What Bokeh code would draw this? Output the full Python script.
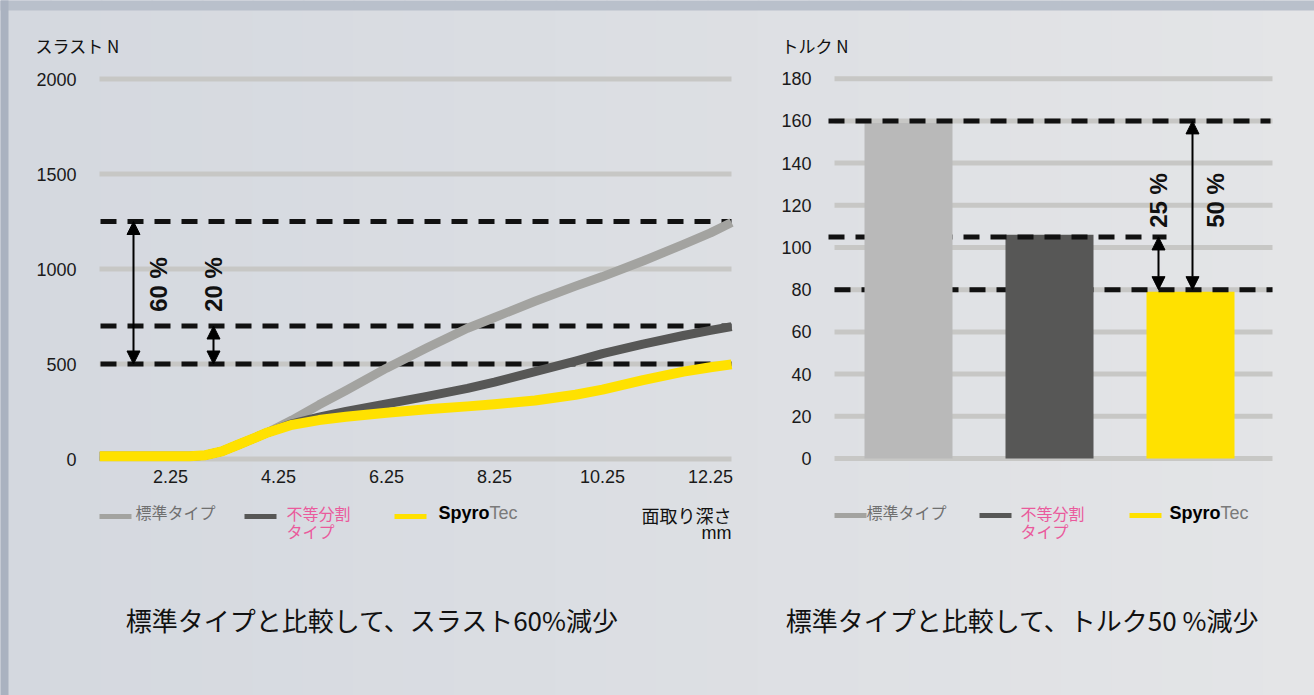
import math
from bokeh.plotting import figure
from bokeh.models import Label, Arrow, NormalHead, Range1d, BoxAnnotation
from bokeh.embed import file_html
from bokeh.resources import INLINE

# ---------------- data ----------------
thrust_title = "スラスト N"
torque_title = "トルク N"
depth = [0.94, 2.6, 2.9, 3.2, 3.5, 3.8, 4.05, 4.5, 5.0, 5.5, 6.25, 7.0, 7.75,
         8.25, 9.0, 9.75, 10.25, 11.0, 11.75, 12.25, 12.64]
thrust_standard = [15, 15, 20, 40, 75, 110, 140, 205, 285, 360, 478, 585, 688,
                   745, 830, 910, 960, 1042, 1130, 1190, 1245]
thrust_unequal = [15, 15, 20, 40, 75, 110, 140, 185, 220, 250, 290, 330, 372,
                  405, 460, 515, 555, 605, 650, 677, 697]
thrust_spyrotec = [15, 15, 20, 40, 75, 110, 140, 180, 205, 222, 243, 262, 277,
                   288, 308, 338, 365, 415, 460, 483, 498]
thrust_yticks = [0, 500, 1000, 1500, 2000]
thrust_ytick_labels = ["0", "500", "1000", "1500", "2000"]
depth_ticks = [2.25, 4.25, 6.25, 8.25, 10.25, 12.25]
depth_tick_labels = ["2.25", "4.25", "6.25", "8.25", "10.25", "12.25"]
thrust_ref_levels = [1250, 700, 500]
thrust_arrow_from = [500, 500]
thrust_arrow_to = [1250, 700]
thrust_arrow_labels = ["60 %", "20 %"]
depth_axis_title = ["面取り深さ", "mm"]

torque_x = [1, 2, 3]
torque_values = [159, 106, 79]
torque_yticks = [0, 20, 40, 60, 80, 100, 120, 140, 160, 180]
torque_ytick_labels = ["0", "20", "40", "60", "80", "100", "120", "140", "160", "180"]
torque_ref_levels = [160, 105, 80]
torque_arrow_from = [80, 80]
torque_arrow_to = [105, 160]
torque_arrow_labels = ["25 %", "50 %"]

legend_standard = "標準タイプ"
legend_unequal = ["不等分割", "タイプ"]
legend_spyro = ["Spyro", "Tec"]
caption_thrust = "標準タイプと比較して、スラスト60%減少"
caption_torque = "標準タイプと比較して、トルク50 %減少"

# ---------------- styles ----------------
JP = "Noto Sans CJK JP"
LAT = "Liberation Sans"
C_STD_LINE = "#a3a3a0"
C_STD_BAR = "#b9b9b9"
C_UNEQ = "#575756"
C_YEL = "#ffe100"
C_GRID = "#c7c7c5"
C_DASH = "#111111"
C_PINK = "#ea5a9c"
W, H = 1314, 695
BG0 = (212, 216, 223)
BG1 = (228, 229, 231)


def bg_col(px):
    t = max(0.0, min(1.0, px / W))
    c = [round(BG0[i] + (BG1[i] - BG0[i]) * t) for i in range(3)]
    return "#%02x%02x%02x" % tuple(c)


# pixel -> data helpers (layout only)
def lx(px):
    return 2.25 + (px - 170) / 54.0


def ly(py):
    return (458.5 - py) / 0.19


def rx(px):
    return 1 + (px - 908) / 141.0


def ry(py):
    return (458 - py) / 2.11


p = figure(width=W, height=H, title=None,
           x_range=Range1d(lx(0), lx(W)), y_range=Range1d(ly(H), ly(0)),
           x_axis_location=None, y_axis_location=None,
           output_backend="svg", toolbar_location=None, tools="",
           min_border=0, min_border_left=0, min_border_right=0,
           min_border_top=0, min_border_bottom=0,
           background_fill_color=bg_col(W / 2), border_fill_color=bg_col(W / 2),
           outline_line_color=None)
p.xgrid.visible = False
p.ygrid.visible = False
p.extra_x_ranges = {"tq": Range1d(rx(0), rx(W))}
p.extra_y_ranges = {"tq": Range1d(ry(H), ry(0))}
TQ = dict(x_range_name="tq", y_range_name="tq")

# background gradient + frame strips
NB = 26
for k in range(NB):
    a = W * k / NB
    b = W * (k + 1) / NB
    p.add_layout(BoxAnnotation(left=lx(a - 1), right=lx(b + 1), bottom=ly(H + 2),
                               top=ly(-2), fill_color=bg_col((a + b) / 2),
                               fill_alpha=1, line_color=None, level="underlay"))
p.add_layout(BoxAnnotation(left=lx(-2), right=lx(W + 2), bottom=ly(10), top=ly(-2),
                           fill_color="#b9c0cb", fill_alpha=1, line_color=None,
                           level="underlay"))
p.add_layout(BoxAnnotation(left=lx(-2), right=lx(8), bottom=ly(H + 2), top=ly(-2),
                           fill_color="#aab2c0", fill_alpha=1, line_color=None,
                           level="underlay"))


def lab(x, y, text, size, color="#111111", font=JP, align="left",
        style="normal", angle=0.0, **kw):
    p.add_layout(Label(x=x, y=y, text=text, text_font=font,
                       text_font_size=f"{size}px", text_color=color,
                       text_align=align, text_baseline="middle",
                       text_font_style=style, angle=angle, **kw))


def arrow(x, y0, y1, **kw):
    p.add_layout(Arrow(start=NormalHead(size=13, fill_color="black", line_color="black"),
                       end=NormalHead(size=13, fill_color="black", line_color="black"),
                       x_start=x, y_start=y0, x_end=x, y_end=y1,
                       line_width=2, line_color="black", **kw))


# ---------------- left chart (thrust) ----------------
nt = len(thrust_yticks)
p.segment(x0=[lx(99)] * nt, y0=thrust_yticks, x1=[lx(731)] * nt, y1=thrust_yticks,
          line_color=C_GRID, line_width=5)

n = len(thrust_ref_levels)
p.segment(x0=[lx(100)] * n, y0=thrust_ref_levels, x1=[lx(731)] * n,
          y1=thrust_ref_levels, line_color=C_DASH, line_width=5,
          line_dash="16 11")
p.line(depth, thrust_standard, line_color=C_STD_LINE, line_width=9,
       line_join="round")
p.line(depth, thrust_unequal, line_color=C_UNEQ, line_width=9,
       line_join="round")
p.line(depth, thrust_spyrotec, line_color=C_YEL, line_width=10,
       line_join="round")

arrow_px = [133, 213]
text_px = [158, 213]
for i in range(len(thrust_arrow_labels)):
    arrow(lx(arrow_px[i]), thrust_arrow_from[i], thrust_arrow_to[i])
    lab(lx(text_px[i]), ly(284), thrust_arrow_labels[i], 24,
        color="#111111", font=LAT, align="center", style="bold",
        angle=math.pi / 2)

for t, s in zip(thrust_yticks, thrust_ytick_labels):
    lab(lx(76), t, s, 18, color="#1a1a1a", font=LAT, align="right")
for t, s in zip(depth_ticks, depth_tick_labels):
    lab(t, ly(476), s, 18, color="#1a1a1a", font=LAT, align="center")

lab(lx(35), ly(44.5), thrust_title, 17)
lab(lx(731), ly(514), depth_axis_title[0], 18, align="right")
lab(lx(731), ly(532.5), depth_axis_title[1], 18, font=LAT, align="right")

p.segment(x0=[lx(99), lx(244), lx(394)], y0=[ly(516)] * 3,
          x1=[lx(131), lx(276), lx(426)], y1=[ly(516)] * 3,
          line_color=[C_STD_LINE, C_UNEQ, C_YEL], line_width=5)
lab(lx(135), ly(511.5), legend_standard, 16, color="#707070")
lab(lx(286), ly(512), legend_unequal[0], 16, color=C_PINK)
lab(lx(286), ly(530.5), legend_unequal[1], 16, color=C_PINK)
lab(lx(438), ly(512.5), legend_spyro[0], 18, color="#000000", font=LAT,
    style="bold")
lab(lx(489), ly(512.5), legend_spyro[1], 18, color="#7a7a7a", font=LAT)

lab(lx(372), ly(619), caption_thrust, 26, align="center")

# ---------------- right chart (torque) ----------------
nq = len(torque_yticks)
p.segment(x0=[rx(834)] * nq, y0=torque_yticks, x1=[rx(1272)] * nq, y1=torque_yticks,
          line_color=C_GRID, line_width=5, **TQ)

bw = 88 / 141.0
bar_colors = [C_STD_BAR, C_UNEQ, C_YEL]
dash_x0 = [rx(828), rx(828), rx(834)]
dash_x1 = [rx(1270), rx(1166), rx(1272)]


def dash(i):
    p.segment(x0=[dash_x0[i]], y0=[torque_ref_levels[i]], x1=[dash_x1[i]],
              y1=[torque_ref_levels[i]], line_color=C_DASH, line_width=5,
              line_dash="16 11", **TQ)


def bar(i):
    p.vbar(x=[torque_x[i]], top=[torque_values[i]], bottom=0, width=bw,
           fill_color=bar_colors[i], line_color=None, **TQ)


bar(2)
dash(2)
bar(1)
dash(1)
bar(0)
dash(0)

r_arrow_px = [1158, 1192]
r_text = [(1158, 200), (1215, 200)]
for i in range(len(torque_arrow_labels)):
    arrow(rx(r_arrow_px[i]), torque_arrow_from[i], torque_arrow_to[i], **TQ)
    lab(rx(r_text[i][0]), ry(r_text[i][1]), torque_arrow_labels[i], 24,
        color="#111111", font=LAT, align="center", style="bold",
        angle=math.pi / 2, **TQ)

for t, s in zip(torque_yticks, torque_ytick_labels):
    lab(rx(811), t, s, 18, color="#1a1a1a", font=LAT, align="right", **TQ)

lab(rx(781), ry(44.5), torque_title, 17, **TQ)

p.segment(x0=[rx(834), rx(979), rx(1129)], y0=[ry(515)] * 3,
          x1=[rx(866), rx(1011), rx(1161)], y1=[ry(515)] * 3,
          line_color=[C_STD_LINE, C_UNEQ, C_YEL], line_width=5, **TQ)
lab(rx(866), ry(511.5), legend_standard, 16, color="#707070", **TQ)
lab(rx(1020), ry(512.5), legend_unequal[0], 16, color=C_PINK, **TQ)
lab(rx(1020), ry(530), legend_unequal[1], 16, color=C_PINK, **TQ)
lab(rx(1169), ry(512.5), legend_spyro[0], 18, color="#000000", font=LAT,
    style="bold", **TQ)
lab(rx(1220), ry(512.5), legend_spyro[1], 18, color="#7a7a7a", font=LAT, **TQ)

lab(rx(1022), ry(619), caption_torque, 26, align="center", **TQ)

open("out.html", "w").write(file_html(p, INLINE))
